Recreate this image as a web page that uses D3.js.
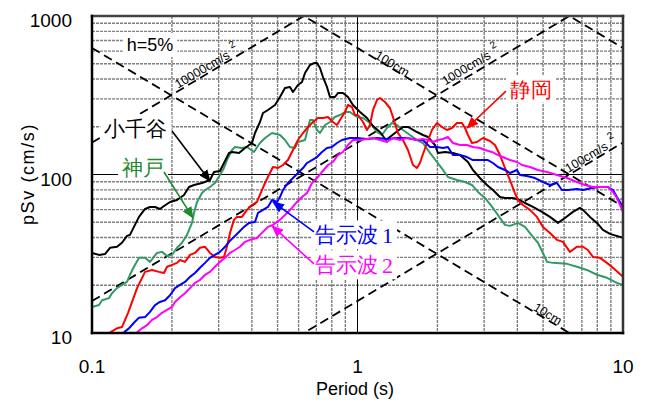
<!DOCTYPE html>
<html>
<head>
<meta charset="utf-8">
<script src="https://cdn.jsdelivr.net/npm/d3@7"></script>
<style>
  body { margin: 0; background: #fff; }
  svg { display: block; }
  text { font-family: "Liberation Sans", Arial, sans-serif; }
</style>
</head>
<body>
<svg id="chart" width="645" height="400"></svg>
<script>
// Response spectra, [period (s), pSv (cm/s)]
var ojiya = [[0.100,32.0],[0.1063,31.1],[0.1119,31.5],[0.1169,34.5],[0.1242,35.0],[0.1297,37.1],[0.1355,41.0],[0.139,41.6],[0.1439,46.7],[0.1503,54.0],[0.1584,60.6],[0.1654,62.4],[0.1727,62.4],[0.1803,60.6],[0.1867,63.3],[0.1967,67.1],[0.209,69.0],[0.2221,74.3],[0.2319,83.4],[0.2422,85.9],[0.2596,88.4],[0.2782,92.3],[0.288,103.7],[0.3034,105.2],[0.3141,118.2],[0.3281,136.7],[0.3368,138.7],[0.3577,136.7],[0.377,146.9],[0.4005,158.0],[0.4111,182.7],[0.4292,214.4],[0.4406,244.3],[0.46,255.3],[0.4888,274.5],[0.5105,308.3],[0.5331,351.5],[0.5566,356.6],[0.5715,331.6],[0.5967,367.2],[0.618,383.5],[0.6343,436.9],[0.6623,490.7],[0.6857,505],[0.7038,505],[0.7223,469.7],[0.7413,412.2],[0.7674,356.6],[0.7876,308.3],[0.8225,308.3],[0.8441,326.8],[0.8817,326.8],[0.9207,308.3],[0.9614,274.5],[1.022,247.9],[1.086,227.2],[1.144,202.3],[1.215,185.4],[1.280,165.1],[1.384,182.7],[1.483,199.4],[1.549,199.4],[1.675,185.4],[1.764,177.5],[1.843,172.4],[1.958,153.5],[2.009,136.7],[2.135,138.7],[2.288,136.7],[2.431,132.7],[2.606,119.9],[2.721,106.8],[2.892,95.0],[3.073,85.9],[3.237,79.8],[3.44,72.1],[3.593,71.1],[3.851,71.1],[4.092,69.0],[4.273,66.1],[4.58,62.4],[4.952,58.1],[5.307,54.0],[5.689,49.5],[6.044,53.2],[6.477,58.1],[6.882,61.5],[7.063,59.8],[7.508,54.0],[7.976,49.5],[8.403,44.7],[8.929,42.2],[10.0,39.8]];

var kobe = [[0.100,14.6],[0.1063,15.0],[0.1091,16.1],[0.1159,16.6],[0.1189,17.8],[0.1242,19.2],[0.1297,20.1],[0.1355,21.0],[0.139,23.3],[0.1439,26.2],[0.1503,29.8],[0.1584,29.8],[0.1654,28.1],[0.1757,32.0],[0.1835,32.5],[0.1917,30.6],[0.2001,31.1],[0.209,34.5],[0.2183,37.1],[0.2279,41.6],[0.238,49.5],[0.2422,57.2],[0.2486,67.1],[0.2596,76.4],[0.2665,79.8],[0.2782,83.4],[0.2905,88.4],[0.3034,99.3],[0.3141,109.9],[0.3224,123.4],[0.3368,142.7],[0.3455,149.1],[0.3672,146.9],[0.3835,149.1],[0.4075,138.7],[0.4292,158.0],[0.4483,169.9],[0.4764,182.7],[0.5105,177.5],[0.5331,165.1],[0.5566,149.1],[0.5813,146.9],[0.5967,160.3],[0.6343,165.1],[0.6623,220.7],[0.6797,220.7],[0.7038,190.9],[0.7223,182.7],[0.7545,205.2],[0.7876,214.4],[0.8225,230.5],[0.859,237.3],[0.8969,247.9],[0.9367,247.9],[0.9954,230.5],[1.049,227.2],[1.114,211.3],[1.184,185.4],[1.236,177.5],[1.291,196.5],[1.348,211.3],[1.408,205.2],[1.483,190.9],[1.576,177.5],[1.675,165.1],[1.764,158.0],[1.875,136.7],[1.992,119.9],[2.099,106.8],[2.191,96.4],[2.369,92.3],[2.54,89.7],[2.698,85.9],[2.842,77.6],[3.02,71.1],[3.237,61.5],[3.44,53.2],[3.593,48.1],[3.752,47.4],[4.021,49.5],[4.273,46.7],[4.58,40.4],[4.782,37.1],[4.994,32.0],[5.171,28.1],[5.447,27.7],[6.151,27.3],[6.706,26.2],[7.315,25.0],[7.976,23.3],[8.7,22.3],[9.489,20.7],[10.0,20.1]];

var shizuoka = [[0.1169,10.1],[0.1242,10.7],[0.1297,10.9],[0.1367,13.4],[0.1478,19.2],[0.1584,24.3],[0.1683,25.0],[0.1788,24.3],[0.1867,23.9],[0.1917,26.2],[0.2001,26.9],[0.209,27.7],[0.2145,28.9],[0.224,28.1],[0.2339,31.1],[0.2443,32.0],[0.2551,34.5],[0.2665,35.0],[0.2782,32.0],[0.2905,30.2],[0.3034,29.8],[0.3141,30.2],[0.3224,35.0],[0.331,42.8],[0.3426,51.7],[0.3516,54.0],[0.3672,54.0],[0.3835,59.8],[0.4005,64.2],[0.4182,67.1],[0.4367,79.8],[0.4483,88.4],[0.468,102.2],[0.4803,111.5],[0.5017,109.9],[0.524,114.8],[0.547,123.4],[0.5715,142.7],[0.5967,165.1],[0.6233,182.7],[0.6509,199.4],[0.6797,214.4],[0.7096,227.2],[0.7413,227.2],[0.7741,230.5],[0.8084,214.4],[0.8369,205.2],[0.859,220.7],[0.8969,247.9],[0.9207,274.5],[0.9532,266.6],[0.9784,237.3],[1.004,237.3],[1.049,214.4],[1.086,190.9],[1.114,205.2],[1.144,255.3],[1.184,295.1],[1.215,303.9],[1.269,286.7],[1.325,262.8],[1.360,230.5],[1.420,182.7],[1.483,165.1],[1.549,142.7],[1.618,114.8],[1.675,109.9],[1.719,118.2],[1.749,128.9],[1.827,158.0],[1.907,190.9],[1.992,211.3],[2.08,199.4],[2.172,190.9],[2.269,196.5],[2.369,211.3],[2.474,211.3],[2.54,196.5],[2.606,177.5],[2.698,158.0],[2.818,160.3],[2.968,169.9],[3.154,162.7],[3.294,153.5],[3.44,132.7],[3.593,109.9],[3.752,92.3],[3.917,76.4],[4.021,69.0],[4.199,64.2],[4.461,59.8],[4.741,54.0],[4.994,46.7],[5.307,42.8],[5.64,38.7],[5.94,37.6],[6.311,32.5],[6.706,35.0],[7.063,35.0],[7.377,33.4],[7.705,30.2],[8.187,29.8],[8.7,27.7],[9.165,25.8],[10.0,22.6]];

var kokuji1 = [[0.1319,10.1],[0.1378,10.7],[0.1439,11.6],[0.1503,12.5],[0.1584,12.6],[0.1654,13.6],[0.1727,15.0],[0.1803,15.7],[0.1884,16.1],[0.1967,17.3],[0.2054,19.2],[0.2145,20.1],[0.224,21.0],[0.2339,22.6],[0.2443,23.9],[0.2551,25.8],[0.2665,27.7],[0.2782,29.8],[0.2905,31.1],[0.3034,32.5],[0.317,35.0],[0.3281,37.6],[0.3426,40.4],[0.3577,43.4],[0.3736,46.7],[0.3903,49.5],[0.4111,50.2],[0.4218,57.2],[0.4406,59.8],[0.46,62.4],[0.4764,69.0],[0.4972,67.1],[0.5105,72.1],[0.524,79.8],[0.547,88.4],[0.5715,95.0],[0.5967,102.2],[0.6233,109.9],[0.6453,118.2],[0.6739,123.4],[0.7038,128.9],[0.7349,138.7],[0.7674,146.9],[0.8014,149.1],[0.8369,158.0],[0.8741,165.1],[0.9367,169.9],[0.9954,169.9],[1.086,167.5],[1.184,169.9],[1.291,167.5],[1.408,169.9],[1.536,169.9],[1.675,165.1],[1.764,165.1],[1.875,149.1],[1.992,149.1],[2.099,146.9],[2.191,149.1],[2.288,132.7],[2.431,132.7],[2.584,128.9],[2.721,123.4],[2.942,123.4],[3.099,123.4],[3.237,118.2],[3.381,111.5],[3.593,106.8],[3.752,102.2],[3.987,106.8],[4.092,99.3],[4.347,97.9],[4.66,95.0],[4.994,89.7],[5.307,85.9],[5.64,88.4],[5.888,79.8],[6.203,79.8],[6.706,81.0],[7.063,79.8],[7.638,82.2],[8.187,83.4],[8.776,83.4],[9.165,79.8],[9.489,72.1],[10.0,62.4]];

var kokuji2 = [[0.1478,10.1],[0.1543,10.7],[0.1611,11.2],[0.1683,12.1],[0.1757,12.6],[0.1835,13.4],[0.1917,14.0],[0.2001,14.6],[0.2054,15.7],[0.2145,16.8],[0.224,17.8],[0.2339,19.2],[0.2443,20.7],[0.2551,21.6],[0.2665,23.3],[0.2782,24.3],[0.2905,26.2],[0.3034,28.1],[0.317,29.8],[0.331,32.0],[0.3455,33.4],[0.3609,35.0],[0.377,37.6],[0.3936,38.7],[0.4182,39.8],[0.4367,42.8],[0.46,46.7],[0.4803,48.1],[0.5105,51.7],[0.5424,57.2],[0.5664,61.5],[0.5916,67.1],[0.618,72.1],[0.6453,76.4],[0.6739,88.4],[0.7038,95.0],[0.7349,103.7],[0.7741,114.8],[0.8084,119.9],[0.8441,132.7],[0.8817,138.7],[0.9207,153.5],[0.9614,165.1],[1.022,165.1],[1.086,167.5],[1.144,169.9],[1.215,165.1],[1.291,160.3],[1.36,169.9],[1.445,165.1],[1.536,169.9],[1.675,165.1],[1.764,167.5],[1.843,165.1],[1.924,160.3],[2.009,165.1],[2.099,167.5],[2.191,172.4],[2.288,158.0],[2.431,153.5],[2.584,153.5],[2.721,149.1],[2.892,146.9],[3.02,142.7],[3.209,138.7],[3.381,132.7],[3.593,127.1],[3.752,123.4],[3.987,119.9],[4.163,114.8],[4.461,111.5],[4.782,106.8],[5.171,103.7],[5.64,99.3],[6.151,95.0],[6.706,89.7],[7.188,85.9],[7.705,83.4],[8.331,83.4],[8.776,83.4],[9.165,77.6],[9.489,71.1],[10.0,58.1]];

var xTicks = [0.1, 1, 10];
var xTickLabels = ["0.1", "1", "10"];
var yTicks = [10, 100, 1000];
var yTickLabels = ["10", "100", "1000"];

// tripartite guide lines
var dispLevels = [10, 100, 1000];     // cm
var accLevels = [100, 1000, 10000];   // cm/s^2

var series = [
  { name: "神戸", data: kobe, color: "#339966" },
  { name: "小千谷", data: ojiya, color: "#000000" },
  { name: "静岡", data: shizuoka, color: "#ff0000" },
  { name: "告示波1", data: kokuji1, color: "#0000ff" },
  { name: "告示波2", data: kokuji2, color: "#ff00ff" }
];

var svg = d3.select("#chart");
var W = 645, H = 400;
var x = d3.scaleLog().domain([0.1, 10]).range([92, 623]);
var y = d3.scaleLog().domain([10, 1000]).range([333, 16]);

var cjk = '"Noto Sans CJK JP", "Noto Sans CJK SC", sans-serif';

function isDecade(t) {
  var l = Math.log10(t);
  return Math.abs(l - Math.round(l)) < 1e-9;
}
function dispSv(sd, T) { return 2 * Math.PI * sd / T; }
function accSv(sa, T) { return sa * T / (2 * Math.PI); }

svg.append("rect").attr("width", W).attr("height", H).attr("fill", "#fff");

svg.append("defs").append("clipPath").attr("id", "plotClip")
  .append("rect")
  .attr("x", x(0.1)).attr("y", y(1000))
  .attr("width", x(10) - x(0.1)).attr("height", y(10) - y(1000));

// grid
var grid = svg.append("g");
grid.selectAll("line.gx").data(x.ticks().filter(function (t) { return !isDecade(t); }))
  .join("line")
  .attr("x1", function (d) { return x(d); }).attr("x2", function (d) { return x(d); })
  .attr("y1", y(1000)).attr("y2", y(10))
  .attr("stroke", "#7f7f7f").attr("stroke-width", 1.4).attr("stroke-dasharray", "3,1");
grid.selectAll("line.gy").data(y.ticks().filter(function (t) { return !isDecade(t); }))
  .join("line")
  .attr("y1", function (d) { return y(d); }).attr("y2", function (d) { return y(d); })
  .attr("x1", x(0.1)).attr("x2", x(10))
  .attr("stroke", "#7f7f7f").attr("stroke-width", 1.4).attr("stroke-dasharray", "3,1");
grid.append("line")
  .attr("x1", x(1)).attr("x2", x(1)).attr("y1", y(1000)).attr("y2", y(10))
  .attr("stroke", "#000").attr("stroke-width", 1);
grid.append("line")
  .attr("y1", y(100)).attr("y2", y(100)).attr("x1", x(0.1)).attr("x2", x(10))
  .attr("stroke", "#000").attr("stroke-width", 1);

// diagonal guide lines
var guide = svg.append("g").attr("clip-path", "url(#plotClip)");
var line = d3.line().x(function (d) { return x(d[0]); }).y(function (d) { return y(d[1]); });
var ends = [0.1, 10];
dispLevels.forEach(function (sd) {
  guide.append("path")
    .attr("d", line(ends.map(function (T) { return [T, dispSv(sd, T)]; })))
    .attr("fill", "none").attr("stroke", "#000").attr("stroke-width", 1.8)
    .attr("stroke-dasharray", "9,5");
});
accLevels.forEach(function (sa) {
  guide.append("path")
    .attr("d", line(ends.map(function (T) { return [T, accSv(sa, T)]; })))
    .attr("fill", "none").attr("stroke", "#000").attr("stroke-width", 1.8)
    .attr("stroke-dasharray", "9,5");
});

var diagLabels = [
  { text: "10000cm/s", sup: "2", kind: "acc", level: 10000, T: 0.278, off: -2 },
  { text: "1000cm/s", sup: "2", kind: "acc", level: 1000, T: 2.77, off: -4 },
  { text: "100cm/s", sup: "2", kind: "acc", level: 100, T: 7.78, off: -2 },
  { text: "100cm", sup: "", kind: "disp", level: 100, T: 1.326, off: 0 },
  { text: "10cm", sup: "", kind: "disp", level: 10, T: 5.085, off: -1 }
];
diagLabels.forEach(function (d) {
  var f = d.kind === "acc" ? accSv : dispSv;
  var p0 = [x(0.1), y(f(d.level, 0.1))], p1 = [x(10), y(f(d.level, 10))];
  var ang = Math.atan2(p1[1] - p0[1], p1[0] - p0[0]) * 180 / Math.PI;
  var t = svg.append("text")
    .attr("transform", "translate(" + x(d.T) + "," + y(f(d.level, d.T)) + ") rotate(" + ang + ")")
    .attr("y", d.off)
    .attr("text-anchor", "middle")
    .attr("font-size", 12.5)
    .attr("fill", "#000")
    .text(d.text);
  if (d.sup) {
    t.append("tspan").attr("dx", 5).attr("dy", -7).attr("font-size", 10).text(d.sup);
  }
});

// spectra
var curves = svg.append("g").attr("clip-path", "url(#plotClip)");
series.forEach(function (s) {
  curves.append("path")
    .attr("d", line(s.data))
    .attr("fill", "none")
    .attr("stroke", s.color)
    .attr("stroke-width", 2)
    .attr("stroke-linejoin", "round");
});

// frame
var fr = svg.append("g").attr("stroke-linecap", "square");
fr.append("line").attr("x1", x(0.1)).attr("x2", x(10)).attr("y1", y(1000)).attr("y2", y(1000))
  .attr("stroke", "#444").attr("stroke-width", 2.5);
fr.append("line").attr("x1", x(10)).attr("x2", x(10)).attr("y1", y(1000)).attr("y2", y(10))
  .attr("stroke", "#333").attr("stroke-width", 2.5);
fr.append("line").attr("x1", x(0.1)).attr("x2", x(0.1)).attr("y1", y(1000)).attr("y2", y(10))
  .attr("stroke", "#000").attr("stroke-width", 2.5);
fr.append("line").attr("x1", x(0.1)).attr("x2", x(10)).attr("y1", y(10)).attr("y2", y(10))
  .attr("stroke", "#000").attr("stroke-width", 2.5);

// tick labels
svg.selectAll("text.xt").data(xTicks).join("text")
  .attr("x", function (d) { return x(d); }).attr("y", 373)
  .attr("text-anchor", "middle").attr("font-size", 19).attr("fill", "#000")
  .text(function (d, i) { return xTickLabels[i]; });
svg.selectAll("text.yt").data(yTicks).join("text")
  .attr("x", 72).attr("y", function (d) { return y(d) + 11; })
  .attr("text-anchor", "end").attr("font-size", 19).attr("fill", "#000")
  .text(function (d, i) { return yTickLabels[i]; });

svg.append("text").attr("x", 355).attr("y", 395)
  .attr("text-anchor", "middle").attr("font-size", 18).text("Period (s)");
svg.append("text").attr("transform", "translate(34,174) rotate(-90)")
  .attr("text-anchor", "middle").attr("font-size", 18).attr("letter-spacing", 1.6)
  .text("pSv (cm/s)");

// annotations
var defs = svg.select("defs");
function marker(id, color) {
  defs.append("marker").attr("id", id)
    .attr("viewBox", "0 0 12 10").attr("refX", 11).attr("refY", 5)
    .attr("markerWidth", 12).attr("markerHeight", 10)
    .attr("markerUnits", "userSpaceOnUse").attr("orient", "auto")
    .append("path").attr("d", "M0,0 L12,5 L0,10 Z").attr("fill", color);
}

var notes = [
  { text: "小千谷", color: "#000000", at: [0.1464, 196.5], anchor: "middle", from: [0.2001, 188], to: [0.2782, 91.0] },
  { text: "神戸", color: "#1f8a2e", at: [0.1556, 111.5], anchor: "middle", from: [0.1867, 103.7], to: [0.2401, 53.2] },
  { text: "静岡", color: "#ff0000", at: [4.503, 346], anchor: "middle", from: [3.625, 336], to: [2.585, 196.5] },
  { text: "告示波", num: "1", color: "#0000ff", at: [0.6917, 41.6], anchor: "start", from: [0.6857, 43.4], to: [0.4805, 67.1] },
  { text: "告示波", num: "2", color: "#ff00ff", at: [0.6917, 26.9], anchor: "start", from: [0.6857, 27.3], to: [0.4764, 47.4] }
];

var boxes = svg.append("g");
var ann = svg.append("g");

// h=5%
var hLabel = ann.append("text")
  .attr("x", x(0.1654)).attr("y", y(656))
  .attr("text-anchor", "middle").attr("dominant-baseline", "central")
  .attr("font-size", 18).text("h=5%");

var boxList = [hLabel];
notes.forEach(function (n, i) {
  var t = ann.append("text")
    .attr("x", x(n.at[0])).attr("y", y(n.at[1]))
    .attr("text-anchor", n.anchor).attr("dominant-baseline", "central")
    .attr("font-family", cjk).attr("font-size", 21).attr("fill", n.color)
    .text(n.text);
  if (n.num) {
    t.append("tspan").attr("dx", 4).attr("font-family", '"Liberation Serif", serif')
      .attr("font-size", 22).text(n.num);
  }
  boxList.push(t);
  marker("arr" + i, n.color);
  ann.append("line")
    .attr("x1", x(n.from[0])).attr("y1", y(n.from[1]))
    .attr("x2", x(n.to[0])).attr("y2", y(n.to[1]))
    .attr("stroke", n.color).attr("stroke-width", 1.6)
    .attr("marker-end", "url(#arr" + i + ")");
});

boxList.forEach(function (t) {
  var b = t.node().getBBox();
  boxes.append("rect")
    .attr("x", b.x - 4).attr("y", b.y - 2)
    .attr("width", b.width + 8).attr("height", b.height + 4)
    .attr("fill", "#fff");
});
</script>
</body>
</html>
